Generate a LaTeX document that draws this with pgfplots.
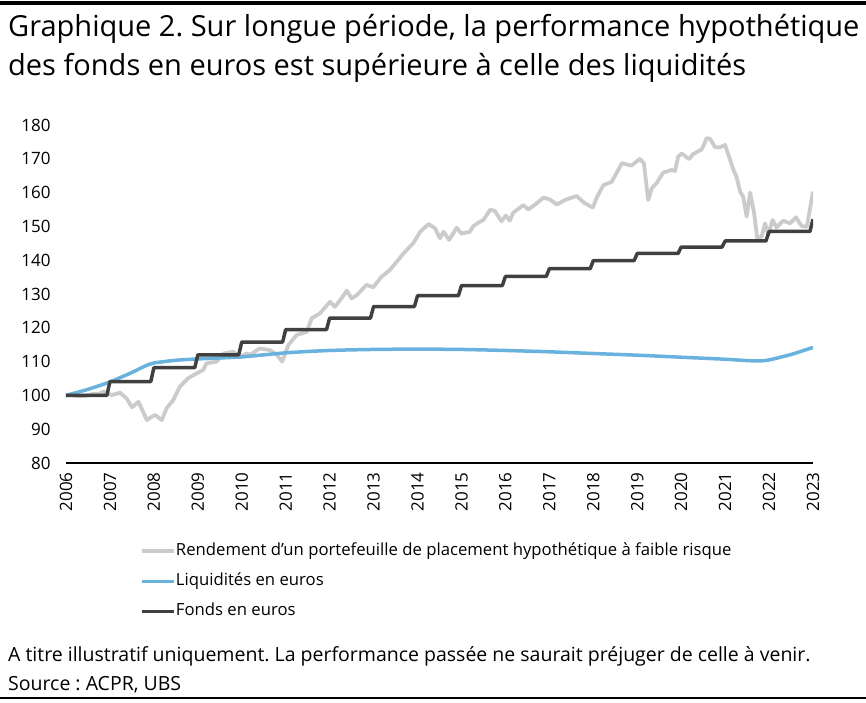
\documentclass[border=0pt]{standalone}
\usepackage{fontspec}
\setmainfont{Open Sans}
\usepackage{pgfplots}
\pgfplotsset{compat=1.18}
\definecolor{cgray}{HTML}{CBCBCB}
\definecolor{cblue}{HTML}{6AB2DE}
\definecolor{cdark}{HTML}{404040}
\frenchspacing
\begin{document}
\begin{tikzpicture}
\path[use as bounding box] (0pt,0pt) rectangle (866pt,-702pt);
\fill[black] (0pt,-1pt) rectangle (866pt,-5pt);
\node[anchor=base west, inner sep=0, font=\fontsize{29}{39}\selectfont] at (8pt,-36pt) {Graphique 2. Sur longue période, la performance hypothétique};
\node[anchor=base west, inner sep=0, font=\fontsize{29}{39}\selectfont] at (8pt,-75pt) {des fonds en euros est supérieure à celle des liquidités};
\begin{axis}[at={(66pt,-463pt)}, anchor=south west, scale only axis,
  width=747pt, height=338pt,
  xmin=2006, xmax=2023, ymin=80, ymax=180,
  axis x line*=bottom, axis y line*=left,
  x axis line style={line width=2.5pt, black},
  y axis line style={draw=none},
  major tick length=0pt,
  xtick={2006,...,2023}, ytick={80,90,...,180},
  /pgf/number format/assume math mode=true,
  /pgf/number format/1000 sep={},
  x tick label style={rotate=90, anchor=east, font=\fontsize{17}{17}\selectfont},
  xticklabel shift=6pt,
  y tick label style={font=\fontsize{17}{17}\selectfont, xshift=-12pt},
  legend style={at={(0.095,-0.231)}, anchor=north west, draw=none, fill=none,
    font=\fontsize{16.7}{16.7}\selectfont, legend cell align=left,
    nodes={inner sep=0pt, text height=12pt, text depth=4pt},
    row sep=14pt},
  legend image code/.code={\draw[#1] (0pt,0pt) -- (32pt,0pt);},
  /tikz/every even column/.append style={column sep=2pt},
]
\addplot[cgray, line width=3.8pt, line join=round] coordinates {
(2006.00,100.0) (2006.10,100.2) (2006.25,99.8) (2006.45,99.9) (2006.6,100.4)
(2006.75,100.5) (2006.85,101.1) (2007.04,100.1) (2007.23,100.8) (2007.38,99.1)
(2007.5,96.5) (2007.65,98.1) (2007.84,92.7) (2007.93,93.5) (2008.03,94.2)
(2008.18,92.7) (2008.29,96.2) (2008.44,98.6) (2008.59,102.6) (2008.78,105.1)
(2008.97,106.5) (2009.12,107.5) (2009.2,109.5) (2009.43,110.0) (2009.58,112.4)
(2009.81,112.9) (2009.96,111.3) (2010.11,112.4) (2010.19,112.0) (2010.41,113.9)
(2010.64,113.4) (2010.8,112.0) (2010.92,110.0) (2011.06,114.9) (2011.25,117.9)
(2011.48,118.8) (2011.59,122.8) (2011.78,124.3) (2012.01,127.7) (2012.12,126.2)
(2012.24,128.2) (2012.39,131.0) (2012.5,128.7) (2012.62,129.7) (2012.84,132.7)
(2012.99,132.0) (2013.18,135.1) (2013.37,137.1) (2013.53,139.6) (2013.68,142.0)
(2013.9,145.0) (2014.06,148.4) (2014.25,150.7) (2014.4,149.4) (2014.51,146.5)
(2014.59,148.4) (2014.72,146.0) (2014.89,149.6) (2015.0,147.9) (2015.19,148.4)
(2015.27,150.1) (2015.42,151.4) (2015.5,151.9) (2015.65,154.9) (2015.76,154.6)
(2015.91,151.5) (2016.01,153.2) (2016.1,151.7) (2016.18,154.1) (2016.41,156.3)
(2016.52,155.0) (2016.71,156.8) (2016.86,158.5) (2017.01,158.0) (2017.17,156.5)
(2017.39,158.0) (2017.62,159.0) (2017.81,156.8) (2017.99,155.6) (2018.08,158.6)
(2018.23,162.2) (2018.42,163.2) (2018.65,168.7) (2018.87,168.0) (2019.06,170.0)
(2019.15,168.7) (2019.25,157.8) (2019.33,161.3) (2019.44,162.8) (2019.59,165.9)
(2019.78,166.7) (2019.86,166.4) (2019.93,170.6) (2020.01,171.6) (2020.18,169.9)
(2020.27,171.4) (2020.47,172.8) (2020.58,176.1) (2020.66,175.9) (2020.77,173.4)
(2020.88,173.4) (2021.0,174.1) (2021.19,166.7) (2021.26,164.7) (2021.34,160.3)
(2021.41,158.8) (2021.49,152.9) (2021.57,160.0) (2021.66,153.9) (2021.73,146.5)
(2021.83,147.0) (2021.91,150.9) (2021.98,147.5) (2022.08,151.9) (2022.17,149.7)
(2022.32,151.7) (2022.48,150.9) (2022.61,152.7) (2022.74,150.1) (2022.86,149.9)
(2023.0,160.3)
};
\addlegendentry{Rendement d’un portefeuille de placement hypothétique à faible risque}
\addplot[cblue, line width=3.5pt, smooth, tension=0.4] coordinates {
(2006,100) (2006.5,101.8) (2007,104.0) (2007.5,106.8) (2007.8,108.7) (2008,109.6)
(2008.5,110.4) (2009,110.8) (2010,111.4) (2011,112.6) (2012,113.3) (2013,113.6)
(2014,113.7) (2015,113.6) (2016,113.3) (2017,112.9) (2018,112.4) (2019,111.9)
(2020,111.3) (2021,110.7) (2021.5,110.3) (2021.8,110.2) (2022,110.5) (2022.5,112.1)
(2023,114.2)
};
\addlegendentry{Liquidités en euros}
\addplot[cdark, line width=3.5pt, line join=round] coordinates {
(2006,100) (2006.93,100) (2007,104.1) (2007.93,104.1) (2008,108.2) (2008.93,108.2)
(2009,112.0) (2009.93,112.0) (2010,115.8) (2010.93,115.8) (2011,119.5) (2011.93,119.5)
(2012,122.9) (2012.93,122.9) (2013,126.3) (2013.93,126.3) (2014,129.5) (2014.93,129.5)
(2015,132.5) (2015.93,132.5) (2016,135.2) (2016.93,135.2) (2017,137.5) (2017.93,137.5)
(2018,139.9) (2018.93,139.9) (2019,142.0) (2019.93,142.0) (2020,143.9) (2020.93,143.9)
(2021,145.7) (2021.93,145.7) (2022,148.5) (2022.93,148.5) (2023,152.1)
};
\addlegendentry{Fonds en euros}
\end{axis}
\node[anchor=base west, inner sep=0, font=\fontsize{19.5}{19.5}\selectfont] at (8pt,-661pt) {A titre illustratif uniquement. La performance passée ne saurait préjuger de celle à venir.};
\node[anchor=base west, inner sep=0, font=\fontsize{19.5}{19.5}\selectfont] at (8pt,-690pt) {Source : ACPR, UBS};
\draw[line width=2pt, black] (0pt,-698pt) -- (866pt,-698pt);
\end{tikzpicture}
\end{document}
